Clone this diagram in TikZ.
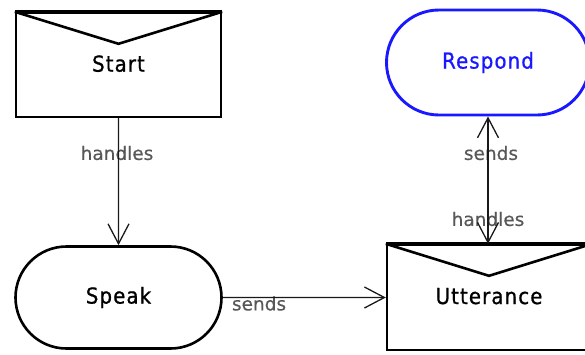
\documentclass[tikz,border=0pt]{standalone}
\usepackage{fontspec}
\setmainfont{DejaVu Sans}
\newfontfamily\boxfont[LetterSpace=5,FakeStretch=0.9,FakeBold=0.8]{DejaVu Sans}
\newfontfamily\tagfont[FakeBold=0.4]{DejaVu Sans}
\usetikzlibrary{shapes.misc,arrows.meta,calc}

\definecolor{pillblue}{RGB}{25,25,255}

\tikzset{
  x=1pt, y=-1pt,
  envelope/.style={draw=black, line width=2.4pt, rectangle, inner sep=0pt,
    minimum width=205pt, minimum height=104pt,
    font=\boxfont\fontsize{22}{24}\selectfont},
  flap/.style={line width=2.6pt, line join=miter},
  lid/.style={line width=4pt},
  pill/.style={draw=black, line width=2.6pt, rounded rectangle, inner sep=0pt,
    minimum width=206pt, minimum height=102pt,
    font=\boxfont\fontsize{22}{24}\selectfont},
  link/.style={draw=black!90, line width=1.3pt},
  barb/.style={-{Straight Barb[length=20pt,width=21pt,line width=1.3pt]}},
  tag/.style={text=black!66, inner sep=0pt, font=\tagfont\fontsize{18.5}{20}\selectfont},
}

\begin{document}
\begin{tikzpicture}
  \path[use as bounding box] (0,0) rectangle (585,354);
  \clip (0,0) rectangle (585,354);

  % boxes
  \node[envelope] (start) at (118.5,65) {\raisebox{3pt}{Start}};
  \node[pill] (speak) at (118.5,297.5) {Speak};
  \node[pill, draw=pillblue, text=pillblue, line width=2.9pt,
    minimum width=203pt, minimum height=105pt]
    (respond) at (488,62.5) {Respond};
  \node[envelope, minimum width=204pt, minimum height=105pt]
    (utter) at (489,297.5) {\raisebox{3pt}{Utterance}};

  % envelope flaps and lids
  \draw[lid] (start.north west) -- (start.north east);
  \draw[flap] (start.north west) -- ([yshift=-32pt]start.north) -- (start.north east);
  \draw[lid] (utter.north west) -- (utter.north east);
  \draw[flap] (utter.north west) -- ([yshift=-32pt]utter.north) -- (utter.north east);

  % connector labels (under the lines)
  \coordinate (ufoot) at (respond.south |- utter.north);
  \node[tag] (h1) at (117,153) {handles};
  \node[tag, anchor=west] (s1) at ([xshift=9pt,yshift=-6pt]speak.east) {sends};
  \node[tag] (s2) at (491,153) {sends};
  \node[tag] (h2) at (488,219) {handles};

  % connectors
  \draw[link, barb] (start) -- (speak);
  \draw[link, barb] (speak) -- (utter);
  \draw[link, {Straight Barb[length=20pt,width=21pt,line width=1.3pt]}-{Straight Barb[length=20pt,width=21pt,line width=1.3pt]}]
    (respond.south) -- (ufoot);
\end{tikzpicture}
\end{document}
